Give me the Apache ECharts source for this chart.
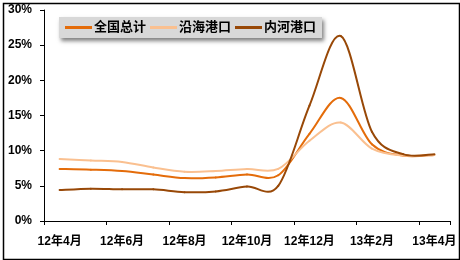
<!DOCTYPE html>
<html>
<head>
<meta charset="utf-8">
<script src="https://cdn.jsdelivr.net/npm/echarts@6/dist/echarts.min.js"></script>
<style>
html,body{margin:0;padding:0;background:#fff;}
#chart{width:460px;height:260px;}
</style>
</head>
<body>
<div id="chart"></div>
<script>
var categories = ['12年4月','12年5月','12年6月','12年7月','12年8月','12年9月','12年10月','12年11月','12年12月','13年1月','13年2月','13年3月','13年4月'];
var seriesNames = ['全国总计','沿海港口','内河港口'];
var totalValues = [7.4, 7.3, 7.1, 6.6, 6.1, 6.2, 6.6, 6.5, 12.4, 17.5, 10.9, 9.3, 9.4];
var coastalValues = [8.8, 8.6, 8.4, 7.6, 7.0, 7.1, 7.4, 7.4, 11.4, 14.0, 10.3, 9.3, 9.4];
var inlandValues = [4.4, 4.6, 4.5, 4.5, 4.1, 4.2, 4.9, 5.0, 16.4, 26.3, 12.7, 9.5, 9.5];
var yTicks = [0, 5, 10, 15, 20, 25, 30];

var FONT = '"Liberation Sans", Arial, "Noto Sans CJK SC", sans-serif';
var colors = ['#E46C0A', '#FAC090', '#984807'];
var chart = echarts.init(document.getElementById('chart'), null, {renderer: 'canvas'});

// Smoothed line (Excel-like cardinal spline) drawn segment by segment,
// every point placed through the axis scales via api.coord.
function mk(name, values, color) {
  var n = values.length;
  return {
    name: name, type: 'custom',
    data: values.map(function (v, i) { return [i, v]; }),
    encode: {x: 0, y: 1},
    itemStyle: {color: color},
    renderItem: function (params, api) {
      var i = params.dataIndex;
      if (i >= n - 1) return null;
      function P(k) {
        k = Math.max(0, Math.min(n - 1, k));
        return api.coord([k, values[k]]);
      }
      var p0 = P(i - 1), p1 = P(i), p2 = P(i + 1), p3 = P(i + 2);
      var t = 6;
      return {
        type: 'bezierCurve',
        shape: {
          x1: p1[0], y1: p1[1], x2: p2[0], y2: p2[1],
          cpx1: p1[0] + (p2[0] - p0[0]) / t, cpy1: p1[1] + (p2[1] - p0[1]) / t,
          cpx2: p2[0] - (p3[0] - p1[0]) / t, cpy2: p2[1] - (p3[1] - p1[1]) / t
        },
        style: {stroke: color, lineWidth: 2, fill: null, lineCap: 'round'},
        silent: true
      };
    }
  };
}

chart.setOption({
  animation: false,
  backgroundColor: '#ffffff',
  color: colors,
  grid: {left: 44, right: 10, top: 10, bottom: 39, containLabel: false},
  legend: {
    left: 59, top: 17,
    data: seriesNames,
    icon: 'rect', itemWidth: 27, itemHeight: 3, itemGap: 4,
    padding: [4, 6, 4, 6],
    backgroundColor: '#d8d8d8',
    shadowColor: 'rgba(0,0,0,0.5)', shadowBlur: 4, shadowOffsetX: 2, shadowOffsetY: 3,
    textStyle: {fontFamily: FONT, fontWeight: 'bold', fontSize: 13, color: '#000', padding: [0, 0, 0, -3]}
  },
  xAxis: {
    type: 'category', data: categories, boundaryGap: true,
    axisLine: {lineStyle: {color: '#000', width: 1}},
    axisTick: {show: true, interval: 1, length: 4, inside: false, lineStyle: {color: '#000'}},
    axisLabel: {interval: 1, margin: 15, color: '#000', fontFamily: FONT, fontWeight: 'bold', fontSize: 12},
    splitLine: {show: false}
  },
  yAxis: {
    type: 'value', min: yTicks[0], max: yTicks[yTicks.length - 1], interval: 5,
    axisLine: {show: true, lineStyle: {color: '#000', width: 1}},
    axisTick: {show: true, length: 4, lineStyle: {color: '#000'}},
    axisLabel: {margin: 12, color: '#000', fontFamily: FONT, fontWeight: 'bold', fontSize: 12, formatter: '{value}%'},
    splitLine: {show: false}
  },
  graphic: [{
    type: 'rect', left: 1, top: 1, silent: true,
    shape: {width: 456, height: 256},
    style: {fill: 'none', stroke: '#000', lineWidth: 1.5}
  }],
  series: [
    mk(seriesNames[0], totalValues, colors[0]),
    mk(seriesNames[1], coastalValues, colors[1]),
    mk(seriesNames[2], inlandValues, colors[2])
  ]
});
</script>
</body>
</html>
